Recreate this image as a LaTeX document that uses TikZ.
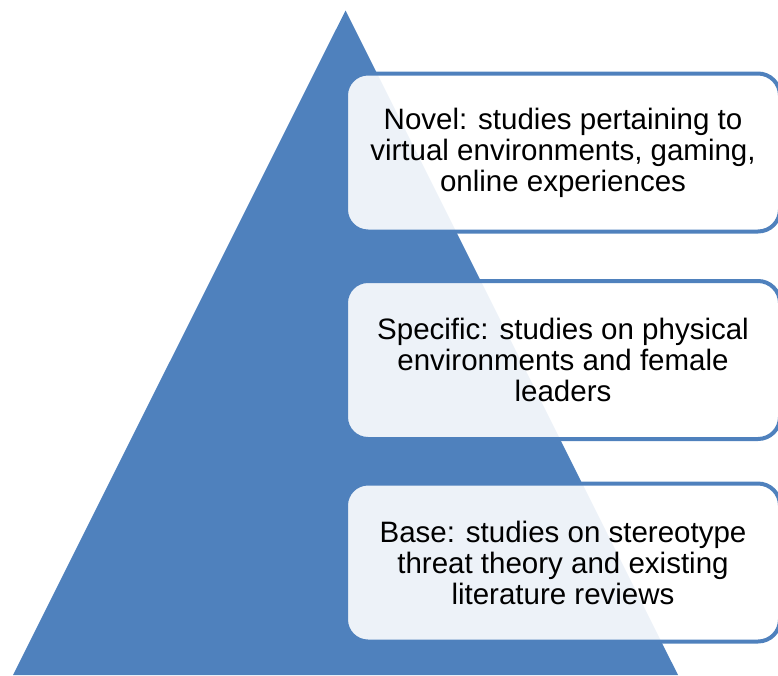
\documentclass[tikz,border=0pt]{standalone}
\usepackage{fontspec}
\setmainfont{Liberation Sans}
\definecolor{pyrblue}{RGB}{79,129,189}
\begin{document}
\begin{tikzpicture}[x=1pt,y=-1pt,
  levelbox/.style={draw=pyrblue,line width=4pt,rounded corners=22pt,
    fill=white,fill opacity=0.9,text opacity=1,
    minimum width=434pt,minimum height=158pt,align=center,
    font=\fontsize{29.5}{31}\selectfont}]
\useasboundingbox (0,0) rectangle (778,675);

% pyramid
\coordinate (apex) at (345.5,10.5);
\coordinate (baseL) at (13,675);
\coordinate (baseR) at (678,675);
\fill[pyrblue] (apex) -- (baseL) -- (baseR) -- cycle;

% levels
\node[levelbox] (novel) at (563,152.5) {Novel: studies pertaining to\\virtual environments, gaming,\\online experiences};
\node[levelbox] (specific) at (563,360) {Specific: studies on physical\\environments and female\\leaders};
\node[levelbox] (base) at (563,562.5) {Base: studies on stereotype\\threat theory and existing\\literature reviews};
\end{tikzpicture}
\end{document}
